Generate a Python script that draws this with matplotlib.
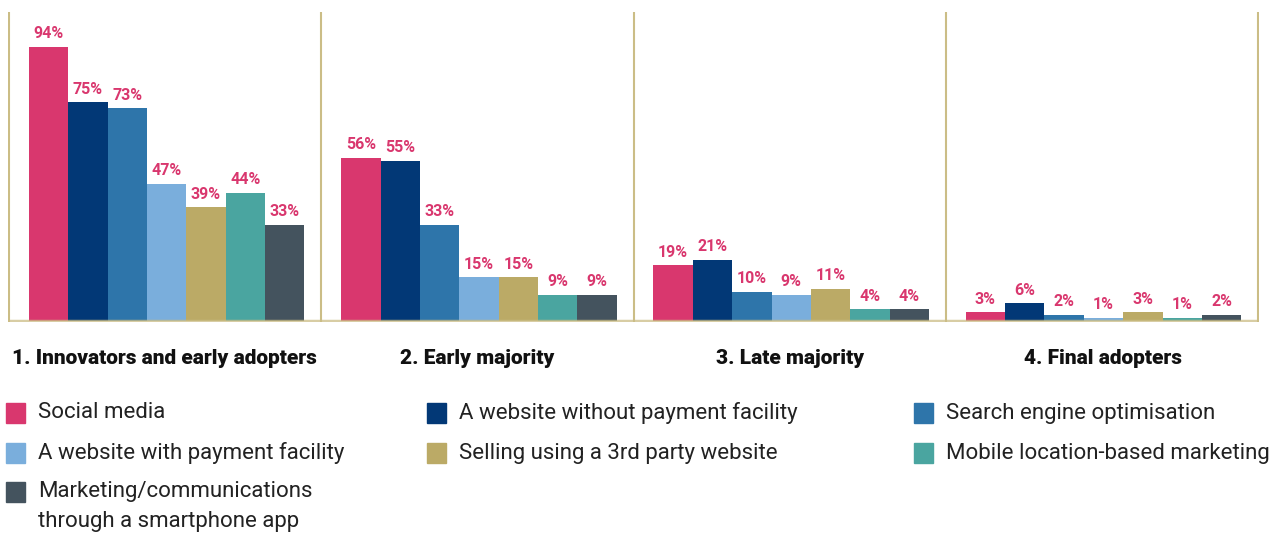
import matplotlib.pyplot as plt
from matplotlib.patches import Rectangle

plt.switch_backend('Agg')

# Data
groups = ['1. Innovators and early adopters', '2. Early majority',
          '3. Late majority', '4. Final adopters']
series = ['Social media', 'A website without payment facility',
          'Search engine optimisation', 'A website with payment facility',
          'Selling using a 3rd party website', 'Mobile location-based marketing',
          'Marketing/communications\nthrough a smartphone app']
values = [
    [94, 56, 19, 3],
    [75, 55, 21, 6],
    [73, 33, 10, 2],
    [47, 15, 9, 1],
    [39, 15, 11, 3],
    [44, 9, 4, 1],
    [33, 9, 4, 2],
]
colors = ['#d9376e', '#023876', '#2e75aa', '#7aaedc', '#bbaa66', '#4aa5a0', '#44535e']

W, H = 1279, 534
fig = plt.figure(figsize=(W / 100, H / 100), dpi=100)
ax = fig.add_axes([8 / W, (H - 322) / H, 1251 / W, 310 / H])

line_col = '#cbbd86'
bar_w = 0.126
left_pad = 0.064
for j, (name, vals, col) in enumerate(zip(series, values, colors)):
    xs = [i + left_pad + bar_w * (j + 0.5) for i in range(len(groups))]
    ax.bar(xs, vals, width=bar_w, color=col, zorder=2)
    for x, v in zip(xs, vals):
        ax.annotate(f'{v}%', (x, v), xytext=(0, 4), textcoords='offset points',
                    ha='center', va='bottom', fontsize=11.5, fontweight='semibold',
                    color='#d9376e', family='Roboto')

for i in range(len(groups) + 1):
    ax.axvline(i, color=line_col, lw=1.5, zorder=1)
ax.axhline(0, color=line_col, lw=2.5, alpha=0.75, zorder=3)

ax.set_xlim(-0.003, len(groups) + 0.003)
ax.set_ylim(-0.4, 106)
ax.axis('off')

# group titles
for i, g in enumerate(groups):
    fig.text((8 + 312.75 * (i + 0.5)) / W, 1 - 358 / H, g, ha='center', va='center',
             fontsize=15, fontweight='heavy', family='Roboto', color='#111111')

# legend, laid out in three columns row by row
col_x = [6, 427, 914]
row_y = [413, 453, 492]
for k, (name, col) in enumerate(zip(series, colors)):
    r, c = divmod(k, 3)
    x0, yc = col_x[c], row_y[r]
    fig.add_artist(Rectangle((x0 / W, 1 - (yc + 10) / H), 19 / W, 20 / H,
                             transform=fig.transFigure, color=col))
    for n, line in enumerate(name.split('\n')):
        fig.text((x0 + 32) / W, 1 - (yc + 29 * n) / H, line, ha='left', va='center',
                 fontsize=16, family='Roboto', color='#222222')

fig.savefig('out.png', dpi=100)
